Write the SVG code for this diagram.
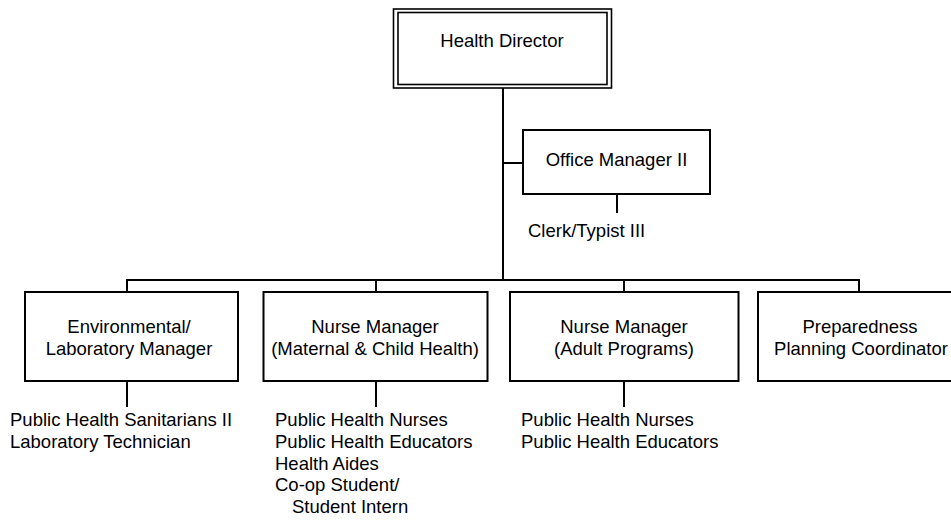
<svg xmlns="http://www.w3.org/2000/svg" width="951" height="523" viewBox="0 0 951 523">
  <style>
    .box { fill: #ffffff; stroke: #000000; stroke-width: 2; }
    .dbl { fill: none; stroke: #000000; stroke-width: 1.6; }
    .link { fill: none; stroke: #000000; stroke-width: 2; }
    text { font-family: "Liberation Sans", Arial, sans-serif; font-size: 18.5px; fill: #000000; }
    .c { text-anchor: middle; }
  </style>
  <rect x="0" y="0" width="951" height="523" fill="#ffffff"/>

  <!-- connectors -->
  <g id="connectors">
    <line class="link" x1="503" y1="88" x2="503" y2="280"/>
    <line class="link" x1="503" y1="163" x2="523" y2="163"/>
    <line class="link" x1="617" y1="194" x2="617" y2="213"/>
    <line class="link" x1="126" y1="280" x2="860" y2="280"/>
    <line class="link" x1="127" y1="280" x2="127" y2="292"/>
    <line class="link" x1="376" y1="280" x2="376" y2="292"/>
    <line class="link" x1="624" y1="280" x2="624" y2="292"/>
    <line class="link" x1="859" y1="280" x2="859" y2="292"/>
    <line class="link" x1="127" y1="381" x2="127" y2="407"/>
    <line class="link" x1="376" y1="381" x2="376" y2="407"/>
    <line class="link" x1="624" y1="381" x2="624" y2="407"/>
  </g>

  <!-- head of department, double frame -->
  <g id="health-director">
    <rect x="393.5" y="9" width="218" height="79" fill="#ffffff" class="dbl"/>
    <rect x="398" y="12.5" width="209" height="72" class="dbl"/>
    <text class="c" x="502" y="46.5">Health Director</text>
  </g>

  <g id="office-manager">
    <rect class="box" x="523" y="130" width="187" height="64"/>
    <text class="c" x="616.5" y="166">Office Manager II</text>
  </g>

  <g id="clerk">
    <text x="528" y="237">Clerk/Typist III</text>
  </g>

  <g id="env-lab-manager">
    <rect class="box" x="25" y="292" width="213" height="89"/>
    <text class="c" x="129" y="332.5">Environmental/</text>
    <text class="c" x="129" y="355">Laboratory Manager</text>
  </g>

  <g id="env-lab-staff">
    <text x="10" y="426">Public Health Sanitarians II</text>
    <text x="10" y="448">Laboratory Technician</text>
  </g>

  <g id="nurse-manager-mch">
    <rect class="box" x="263.5" y="292" width="224" height="89"/>
    <text class="c" x="375" y="332.5">Nurse Manager</text>
    <text class="c" x="375" y="355">(Maternal &amp; Child Health)</text>
  </g>

  <g id="mch-staff">
    <text x="275" y="426">Public Health Nurses</text>
    <text x="275" y="448">Public Health Educators</text>
    <text x="275" y="469.5">Health Aides</text>
    <text x="275" y="491">Co-op Student/</text>
    <text x="292" y="512.5">Student Intern</text>
  </g>

  <g id="nurse-manager-adult">
    <rect class="box" x="510" y="292" width="228.5" height="89"/>
    <text class="c" x="624" y="332.5">Nurse Manager</text>
    <text class="c" x="624" y="355">(Adult Programs)</text>
  </g>

  <g id="adult-staff">
    <text x="521" y="426">Public Health Nurses</text>
    <text x="521" y="448">Public Health Educators</text>
  </g>

  <g id="preparedness-coordinator">
    <rect class="box" x="758" y="292" width="212" height="89"/>
    <text class="c" x="860" y="332.5">Preparedness</text>
    <text class="c" x="861" y="355">Planning Coordinator</text>
  </g>
</svg>
